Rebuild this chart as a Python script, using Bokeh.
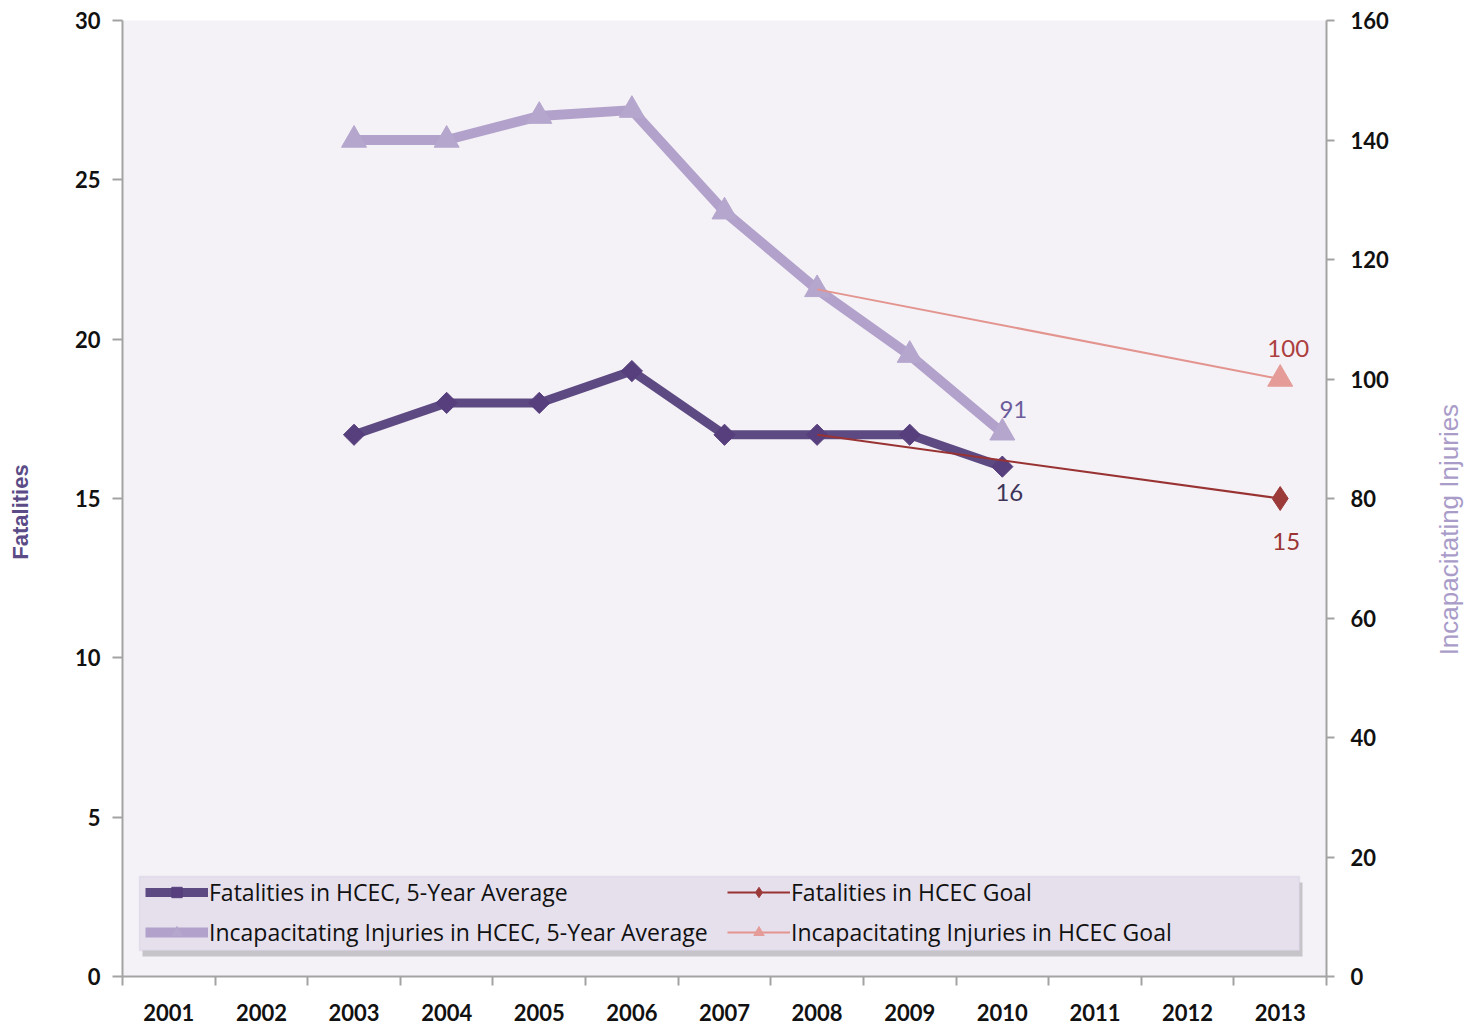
from math import pi
from bokeh.plotting import figure
from bokeh.layouts import row
from bokeh.models import (Range1d, LinearAxis, FixedTicker, Legend, LegendItem,
                          BoxAnnotation)
from bokeh.embed import file_html
from bokeh.resources import INLINE
from bokeh.core.properties import value

# ---- data ----
years = [2001, 2002, 2003, 2004, 2005, 2006, 2007, 2008, 2009, 2010, 2011, 2012, 2013]
avg_years = [2003, 2004, 2005, 2006, 2007, 2008, 2009, 2010]
fatal_avg = [17, 18, 18, 19, 17, 17, 17, 16]
injury_avg = [140, 140, 144, 145, 128, 115, 104, 91]
goal_years = [2008, 2013]
fatal_goal = [17, 15]
injury_goal = [115, 100]
left_ticks = [0, 5, 10, 15, 20, 25, 30]
right_ticks = [0, 20, 40, 60, 80, 100, 120, 140, 160]
left_title = "Fatalities"
right_title = "Incapacitating  Injuries"

TICK_FONT = "Lato"
AXIS_COL = "#a3a3a3"
H = 1025
LEFT_W, MAIN_W, RIGHT_W = 40, 1390, 48

p = figure(width=MAIN_W, height=H, output_backend="svg", toolbar_location=None,
           x_range=Range1d(years[0] - 0.5, years[-1] + 0.5),
           y_range=Range1d(left_ticks[0], left_ticks[-1]),
           min_border_left=122 - LEFT_W, min_border_right=LEFT_W + MAIN_W - 1326,
           min_border_top=20, min_border_bottom=49,
           background_fill_color="#f4f2f7", border_fill_color="white",
           outline_line_color=None)
p.extra_y_ranges = {"inj": Range1d(right_ticks[0], right_ticks[-1])}
p.xgrid.visible = False
p.ygrid.visible = False

# x axis: labels at centres, tick marks at category boundaries (minor ticks)
xa = p.xaxis[0]
xa.ticker = FixedTicker(ticks=years, minor_ticks=[y - 0.5 for y in years] + [years[-1] + 0.5])
xa.major_tick_out = 0
xa.major_tick_in = 0
xa.minor_tick_out = 9
xa.minor_tick_in = 0
xa.minor_tick_line_color = AXIS_COL
xa.minor_tick_line_width = 2
xa.axis_line_color = AXIS_COL
xa.axis_line_width = 2
xa.major_label_standoff = 18

ya = p.yaxis[0]
ya.ticker = FixedTicker(ticks=left_ticks)
ya.major_tick_out = 10
ya.major_tick_in = 0
ya.minor_tick_line_color = None
ya.axis_line_color = AXIS_COL
ya.axis_line_width = 2
ya.major_tick_line_color = AXIS_COL
ya.major_tick_line_width = 2
ya.major_label_standoff = 12

ra = LinearAxis(y_range_name="inj", ticker=FixedTicker(ticks=right_ticks))
ra.major_tick_out = 8
ra.major_tick_in = 0
ra.minor_tick_line_color = None
ra.axis_line_color = AXIS_COL
ra.axis_line_width = 2
ra.major_tick_line_color = AXIS_COL
ra.major_tick_line_width = 2
ra.major_label_standoff = 16
p.add_layout(ra, "right")

for ax in (xa, ya, ra):
    ax.major_label_text_font = TICK_FONT
    ax.major_label_text_font_style = "bold"
    ax.major_label_text_font_size = "22px"
    ax.major_label_text_color = "#111111"

# ---- series ----
r1 = p.line(avg_years, fatal_avg, line_color="#5e4a82", line_width=9, line_join="round")
r1m = p.scatter(avg_years, fatal_avg, marker="square", angle=pi / 4, size=15,
                fill_color="#563f7c", line_color="#563f7c")
r2 = p.line(avg_years, injury_avg, y_range_name="inj", line_color="#b2a2cb",
            line_width=10, line_join="round")
r2m = p.scatter(avg_years, injury_avg, y_range_name="inj", marker="triangle", size=25,
                fill_color="#b5a6cd", line_color="#b5a6cd")
r3 = p.line(goal_years, fatal_goal, line_color="#993333", line_width=2)
r3m = p.scatter(goal_years[1:], fatal_goal[1:], marker="diamond", size=24,
                fill_color="#9c3a3a", line_color="#9c3a3a")
r4 = p.line(goal_years, injury_goal, y_range_name="inj", line_color="#e3948f", line_width=2)
r4m = p.scatter(goal_years[1:], injury_goal[1:], y_range_name="inj", marker="triangle",
                size=25, fill_color="#e59c98", line_color="#e59c98")

# data labels
lab_kw = dict(text_font=value("Lato"), text_font_size="24px", text_align="center",
              text_baseline="middle")
p.text(x=[avg_years[-1]], y=[injury_avg[-1]], text=[str(injury_avg[-1])],
       y_range_name="inj", x_offset=11, y_offset=-23, text_color="#6c5c9c", **lab_kw)
p.text(x=[avg_years[-1]], y=[fatal_avg[-1]], text=[str(fatal_avg[-1])],
       x_offset=7, y_offset=26, text_color="#3e3458", **lab_kw)
p.text(x=[goal_years[-1]], y=[injury_goal[-1]], text=[str(injury_goal[-1])],
       y_range_name="inj", x_offset=8, y_offset=-31, text_color="#ad3f3f", **lab_kw)
p.text(x=[goal_years[-1]], y=[fatal_goal[-1]], text=[str(fatal_goal[-1])],
       x_offset=6, y_offset=43, text_color="#9b3535", **lab_kw)

# legend box (background + shadow)
px_x = (years[-1] - years[0] + 1) / 1204.0
px_y = (left_ticks[-1] - left_ticks[0]) / 956.0
bx0 = years[0] - 0.5 + 17 * px_x
bx1 = years[0] - 0.5 + 1177 * px_x
by0 = 26 * px_y
by1 = 100 * px_y
p.add_layout(BoxAnnotation(left=bx0 + 3 * px_x, right=bx1 + 3 * px_x,
                           bottom=by0 - 6 * px_y, top=by1 - 6 * px_y,
                           fill_color="#6f6f6f", fill_alpha=0.35, line_color=None))
p.add_layout(BoxAnnotation(left=bx0, right=bx1, bottom=by0, top=by1,
                           fill_color="#e6e0ed", fill_alpha=1.0,
                           line_color="#cbc3da", line_width=1.5))

legend = Legend(items=[
    LegendItem(label="Fatalities in HCEC, 5-Year Average", renderers=[r1, r1m]),
    LegendItem(label="Incapacitating Injuries in HCEC, 5-Year Average", renderers=[r2, r2m]),
    LegendItem(label="Fatalities in HCEC Goal", renderers=[r3, r3m]),
    LegendItem(label="Incapacitating Injuries in HCEC Goal", renderers=[r4, r4m]),
], location=(23, 28), orientation="vertical", nrows=2)
legend.background_fill_alpha = 0
legend.border_line_color = None
legend.label_text_font = "Open Sans"
legend.label_text_font_size = "23px"
legend.label_text_color = "#111111"
legend.glyph_width = 63
legend.glyph_height = 26
legend.label_height = 26
legend.label_width = 510
legend.label_standoff = 1
legend.spacing = 8
legend.padding = 6
legend.margin = 0
p.add_layout(legend, "center")


# ---- side panels carrying the rotated axis titles ----
def side_panel(width):
    f = figure(width=width, height=H, output_backend="svg", toolbar_location=None,
               x_range=Range1d(0, 1), y_range=Range1d(0, 1),
               x_axis_type=None, y_axis_type=None,
               min_border=0, min_border_left=0, min_border_right=0,
               min_border_top=0, min_border_bottom=0,
               background_fill_color="white", border_fill_color="white",
               outline_line_color=None)
    f.xgrid.visible = False
    f.ygrid.visible = False
    return f


lp = side_panel(LEFT_W)
lp.text(x=[20 / LEFT_W], y=[(H - 527) / H], text=[left_title], angle=pi / 2,
        text_font=value("Liberation Sans"), text_font_style="bold",
        text_font_size="22px", text_color="#5b4b86",
        text_align="center", text_baseline="middle")

rp = side_panel(RIGHT_W)
rp.text(x=[(1448 - LEFT_W - MAIN_W) / RIGHT_W], y=[(H - 542) / H], text=[right_title],
        angle=pi / 2, text_font=value("Liberation Sans"), text_font_size="26px",
        text_color="#a99cc9", text_align="center", text_baseline="middle")

layout = row(lp, p, rp, spacing=0)
open("out.html", "w").write(file_html(layout, INLINE))
